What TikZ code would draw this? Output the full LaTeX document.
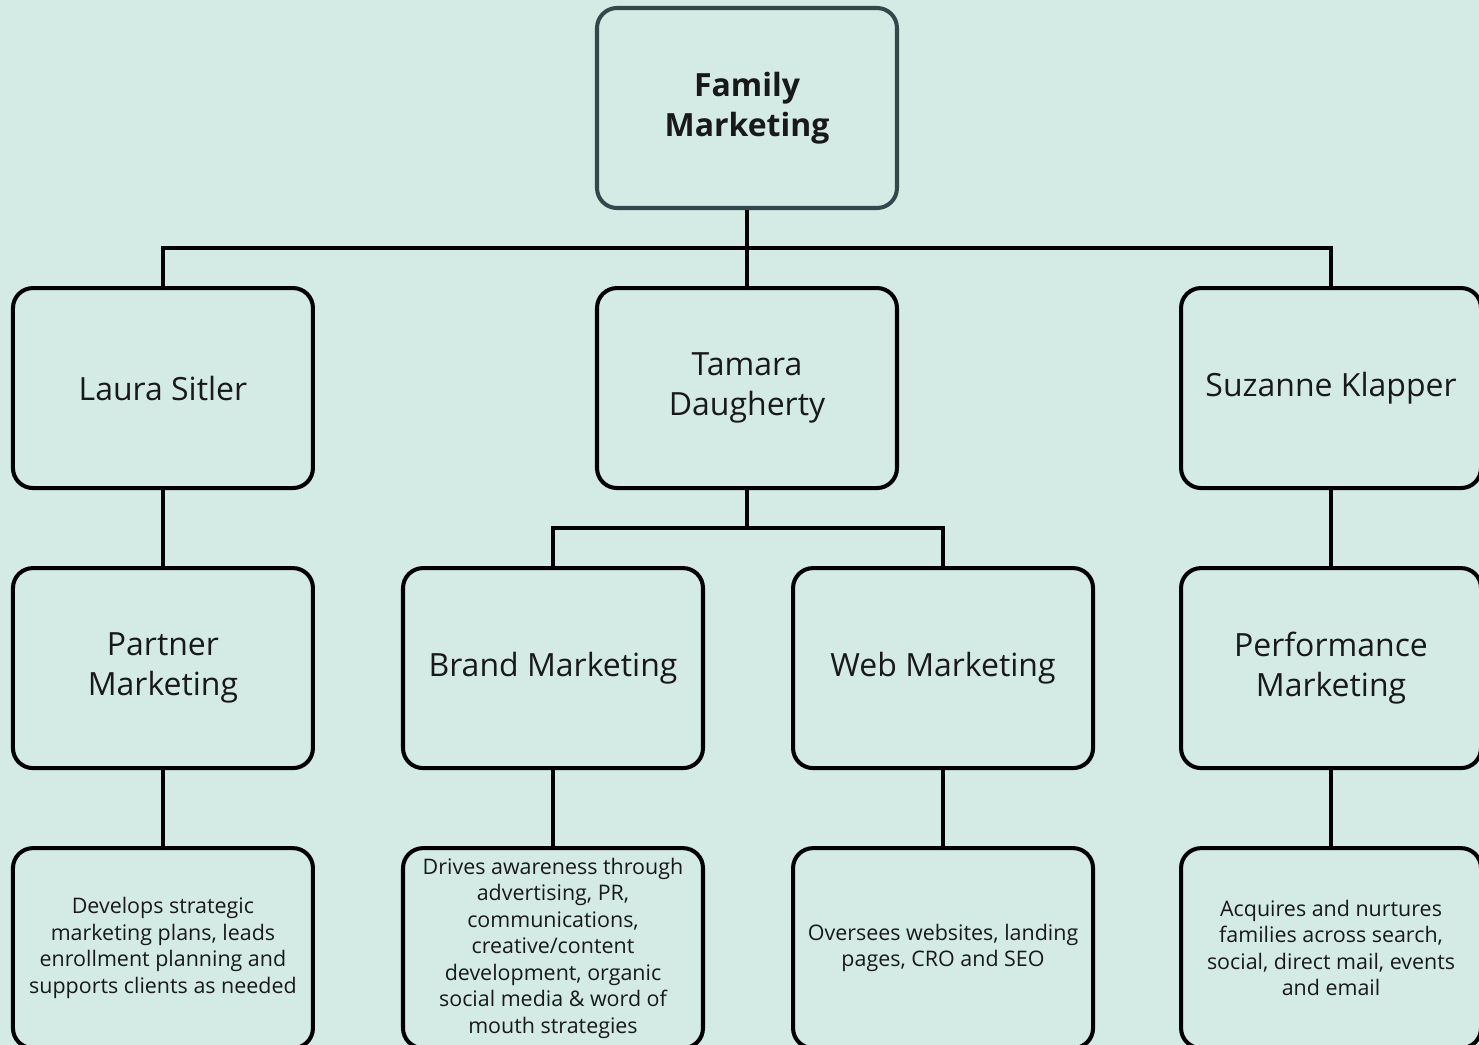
\documentclass[tikz,border=0pt]{standalone}
\usepackage{fontspec}
\setmainfont{Open Sans}
\usetikzlibrary{positioning}
\definecolor{mintbg}{HTML}{D4EBE5}
\definecolor{slateedge}{HTML}{33484A}

\begin{document}
\begin{tikzpicture}[
        font=\fontsize{18.2}{22.7}\selectfont,
        box/.style={draw, line width=2.3pt, rounded corners=0.4cm, minimum width=6cm, minimum height=4cm, align=center, text=black!90},
        head/.style={box, draw=slateedge, font=\fontsize{18.2}{22.7}\selectfont\bfseries},
        desc/.style={box, font=\fontsize{12.2}{15.1}\selectfont},
        link/.style={line width=2.3pt}
    ]
        % background and size
        \fill[mintbg] (0,0) rectangle (29.58,-20.9);
        \useasboundingbox (0,0) rectangle (29.58,-20.9);

        \node[head] (family) at (14.94,-2.16) {Family\\Marketing};

        % second row
        \node[box, below=1.52cm of family] (tamara) {Tamara\\Daugherty};
        \node[box, left=5.6cm of tamara]  (laura)   {Laura Sitler};
        \node[box, right=5.6cm of tamara] (suzanne) {Suzanne Klapper};

        % third row
        \node[box, below=1.52cm of laura]   (partner) {Partner\\Marketing};
        \node[box, right=1.72cm of partner] (brand)   {Brand Marketing};
        \node[box, right=1.72cm of brand]   (web)     {Web Marketing};
        \node[box, below=1.52cm of suzanne] (perform) {Performance\\Marketing};

        % descriptions
        \node[desc, below=1.52cm of partner] (partnerdesc) {Develops strategic\\marketing plans, leads\\enrollment planning and\\supports clients as needed};
        \node[desc, below=1.52cm of brand] (branddesc) {Drives awareness through\\advertising, PR,\\communications,\\creative/content\\development, organic\\social media \& word of\\mouth strategies};
        \node[desc, below=1.52cm of web] (webdesc) {Oversees websites, landing\\pages, CRO and SEO};
        \node[desc, below=1.52cm of perform] (performdesc) {Acquires and nurtures\\families across search,\\social, direct mail, events\\and email};

        \draw[link] (family) -- (tamara);
        \draw[link] (laura.north) -- ++(0,0.76) -| (suzanne.north);
        \draw[link] (tamara.south) -- ++(0,-0.76) coordinate (split);
        \draw[link] (brand.north) |- (split) -| (web.north);
        \draw[link] (laura) -- (partner);
        \draw[link] (suzanne) -- (perform);
        \draw[link] (partner) -- (partnerdesc);
        \draw[link] (brand) -- (branddesc);
        \draw[link] (web) -- (webdesc);
        \draw[link] (perform) -- (performdesc);
    \end{tikzpicture}
\end{document}
